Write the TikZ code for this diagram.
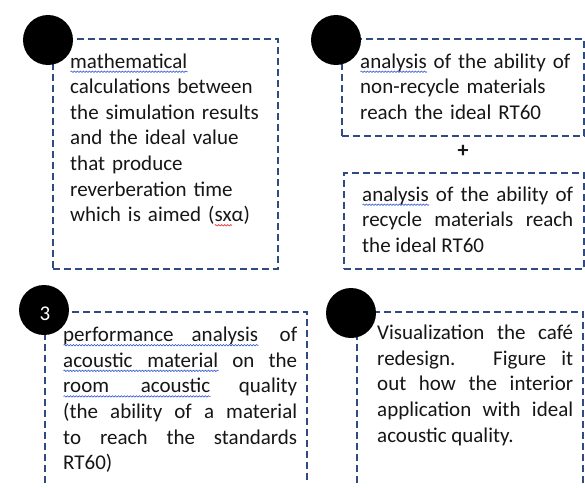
\documentclass[tikz,border=0pt]{standalone}
\usepackage{fontspec}
\setmainfont{Carlito}
\usetikzlibrary{decorations.pathmorphing}
\definecolor{frameblue}{HTML}{2F4B82}
\definecolor{inkgray}{HTML}{161616}
\definecolor{spellblue}{HTML}{2F55D4}
\definecolor{spellred}{HTML}{E02828}
% wavy proofing underline below a word or phrase
\newlength\wavylen
\newsavebox\wavybox
\newcommand\wavy[2]{\sbox\wavybox{#2}\setlength\wavylen{\wd\wavybox}%
  \leavevmode\rlap{\raisebox{-3.6pt}[0pt][0pt]{\tikz[x=1pt,y=1pt,baseline=0pt]
    \draw[#1, line width=0.6pt, decorate,
          decoration={snake, amplitude=0.7pt, segment length=3pt}]
      (0pt,0pt) -- (\wavylen,0pt);}}\usebox\wavybox}
\begin{document}
\begin{tikzpicture}[x=1pt,y=-1pt,
  frame/.style={draw=frameblue, line width=1.6pt, dash pattern=on 7pt off 4pt},
  dot/.style={circle, fill=black, minimum size=50pt, inner sep=0pt},
  txt/.style={anchor=north west, inner sep=0pt, text=inkgray,
              font=\fontsize{21}{25.6}\selectfont},
]
\useasboundingbox[fill=white] (0,0) rectangle (585,487);

% closed dashed frames
\node[frame, anchor=north west, minimum width=225pt, minimum height=230pt, inner sep=0pt] (box1) at (52,38) {};
\node[frame, anchor=north west, minimum width=242pt, minimum height=97pt, inner sep=0pt] (box2) at (341,38) {};
\node[frame, anchor=north west, minimum width=240pt, minimum height=96pt, inner sep=0pt] (box3) at (343,172) {};

% frames open at the bottom
\coordinate (b4bl) at (45,483);
\coordinate (b4tl) at (45,312);
\coordinate (b4tr) at (307,312);
\coordinate (b4br) at (307,483);
\draw[frame] (b4bl) -- (b4tl) -- (b4tr) -- (b4br);
\coordinate (b5bl) at (357,483);
\coordinate (b5tl) at (357,312);
\coordinate (b5tr) at (583,312);
\coordinate (b5br) at (583,483);
\draw[frame] (b5bl) -- (b5tl) -- (b5tr) -- (b5br);

% texts
\node[txt, text width=210pt, align=left] (t1) at (70,50)
  {\strut\wavy{spellblue}{mathematical}\\
   calculations between\\
   the simulation results\\
   and the ideal value\\
   that produce\\
   reverberation time\\
   which is aimed (\wavy{spellred}{sx}α)};
\node[txt, text width=215pt, align=left] (t2) at (360,50)
  {\strut\wavy{spellblue}{analysis} of the ability of\\
   non-recycle materials\\
   reach the ideal RT60};
\node[txt, text width=211pt, align=justify] (t3) at (362,183)
  {\strut\wavy{spellblue}{analysis} of the ability of\linebreak
   recycle materials reach\linebreak
   the ideal RT60};
\node[txt, text width=234pt, align=justify] (t4) at (63,323.5)
  {\strut\wavy{spellblue}{\makebox[195pt][s]{performance analysis}} of\linebreak
   \wavy{spellblue}{\makebox[155pt][s]{acoustic material}} on the\linebreak
   \wavy{spellblue}{\makebox[147pt][s]{room acoustic}} quality\linebreak
   (the ability of a material\linebreak
   to reach the standards\linebreak
   RT60)};
\node[txt, text width=196pt, align=justify] (t5) at (377,321.5)
  {\strut Visualization the café\linebreak
   redesign. Figure it\linebreak
   out how the interior\linebreak
   application with ideal\linebreak
   acoustic quality.};

\node[text=inkgray, font=\fontsize{22}{25}\selectfont\bfseries, inner sep=0pt] (plus) at (463,151) {+};

% numbered markers
\node[dot] (c1) at (48,40) {};
\node[dot] (c2) at (336,40) {};
\node[dot] (c3) at (44,310) {};
\node[dot] (c4) at (351,313) {};
\node[text=white, font=\fontsize{21}{24}\selectfont, inner sep=0pt] (n3) at (45,314) {3};
\end{tikzpicture}
\end{document}
